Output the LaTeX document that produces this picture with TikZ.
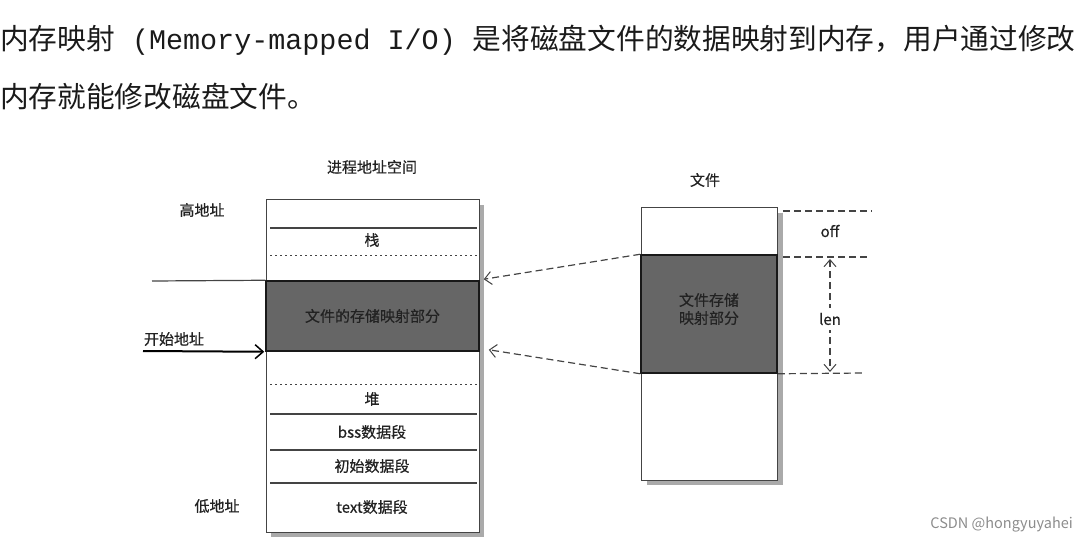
\documentclass[tikz,border=0pt]{standalone}
\usepackage{fontspec}
\newfontfamily\cjk{Noto Sans CJK SC}
\newfontfamily\cjkd[FakeBold=0.6]{Noto Sans CJK SC}
\newfontfamily\monof{Liberation Mono}
\usetikzlibrary{arrows.meta}
\definecolor{txt}{HTML}{1A1A1A}
\definecolor{dtxt}{HTML}{222222}
\definecolor{mapfill}{HTML}{666666}
\definecolor{shade}{HTML}{AAAAAA}
\definecolor{lin}{HTML}{444444}
\tikzset{
  x=1pt, y=-1pt,
  title/.style={font=\cjk\fontsize{28.7}{30}\selectfont, text=txt, anchor=west, inner sep=0pt},
  lbl/.style={font=\cjkd\fontsize{15}{18}\selectfont, text=dtxt, inner sep=1pt},
  shadowbox/.style={fill=shade, draw=none},
  boxline/.style={draw=lin, line width=1.2pt, fill=white},
  mapped/.style={draw=black!90, line width=1.5pt, fill=mapfill, inner sep=0pt},
  sepline/.style={draw=lin, line width=1.2pt},
  dotline/.style={draw=lin, line width=1pt, dash pattern=on 2pt off 3pt},
  dashline/.style={draw=lin, line width=1.2pt, dash pattern=on 7pt off 4pt},
  dasharrow/.style={dashline, -{Straight Barb[length=7pt,width=13pt,line width=1pt]}},
  startarrow/.style={draw=black, line width=2pt, -{Straight Barb[length=8pt,width=14pt,line width=1.5pt]}},
}
\begin{document}
\begin{tikzpicture}
\useasboundingbox (0,0) rectangle (1089,544);
% title
\node[title] (t1) at (0,40) {内存映射{\monof\fontsize{28.4}{30}\selectfont\ (Memory-mapped I/O)\ }是将磁盘文件的数据映射到内存，用户通过修改};
\node[title] (t2) at (0,97) {内存就能修改磁盘文件。};

% process address space
\node[lbl] (pas) at (372,167) {进程地址空间};
\fill[shadowbox] (271,205) rectangle (484,537);
\node[boxline, minimum width=213pt, minimum height=333pt, anchor=north west, inner sep=0pt] (mem) at (266,199) {};
\node[mapped, minimum width=213pt, minimum height=70pt] (memmap) at (372.5,316) {};
\node[lbl] at (memmap) {文件的存储映射部分};
\draw[sepline] (270,228) -- (477,228);
\draw[dotline] (270,255) -- (477,255);
\draw[dotline] (270,384) -- (477,384);
\draw[sepline] (270,414) -- (477,414);
\draw[sepline] (270,450) -- (477,450);
\draw[sepline] (270,483) -- (477,483);
\node[lbl] (stack) at (372,240) {栈};
\node[lbl] (heap) at (372,399) {堆};
\node[lbl] (bss) at (372,432) {bss数据段};
\node[lbl] (init) at (372,466) {初始数据段};
\node[lbl] (textseg) at (372,507) {text数据段};

\node[lbl] (high) at (202,210) {高地址};
\node[lbl] (low) at (217,506) {低地址};
\node[lbl] (start) at (174,339) {开始地址};
\coordinate (topline) at (152,281);
\draw[sepline] (topline) -- (memmap.north west);
\coordinate (startfrom) at (143,351);
\draw[startarrow] (startfrom) -- ([xshift=-1pt]memmap.south west);

% file
\node[lbl] (file) at (705,180) {文件};
\fill[shadowbox] (647,213) rectangle (783,485);
\node[boxline, minimum width=136pt, minimum height=273pt, anchor=north west, inner sep=0pt] (fbox) at (641,207) {};
\node[mapped, minimum width=136pt, minimum height=118pt] (filemap) at (709,314) {};
\node[lbl, align=center] (filelbl) at (709,309) {文件存储\\映射部分};

% mapping arrows
\draw[dasharrow] (filemap.north west) -- ([xshift=4pt,yshift=1pt]memmap.north east);
\draw[dasharrow] (filemap.south west) -- ([xshift=9pt,yshift=2pt]memmap.south east);

% off / len
\coordinate (d1a) at (783,211); \coordinate (d1b) at (872,211);
\coordinate (d2a) at (783,257); \coordinate (d2b) at (870,257);
\coordinate (d3b) at (865,373);
\draw[dashline] (d1a) -- (d1b);
\draw[dashline] (d2a) -- (d2b);
\draw[dashline] (filemap.south east) -- (d3b);
\node[lbl] (off) at (830,231) {off};
\coordinate (lentop) at (830,259);
\coordinate (lenbot) at (830,372);
\draw[dashline, {Straight Barb[length=7pt,width=12pt,line width=1pt]}-{Straight Barb[length=7pt,width=12pt,line width=1pt]}] (lentop) -- (lenbot);
\node[lbl, fill=white, inner ysep=5pt] (len) at (830,319) {len};

% watermark
\node[font=\cjk\fontsize{14.5}{16}\selectfont, text=black!45, anchor=east, inner sep=0pt] (wm) at (1073,525) {CSDN @hongyuyahei};
\end{tikzpicture}
\end{document}
